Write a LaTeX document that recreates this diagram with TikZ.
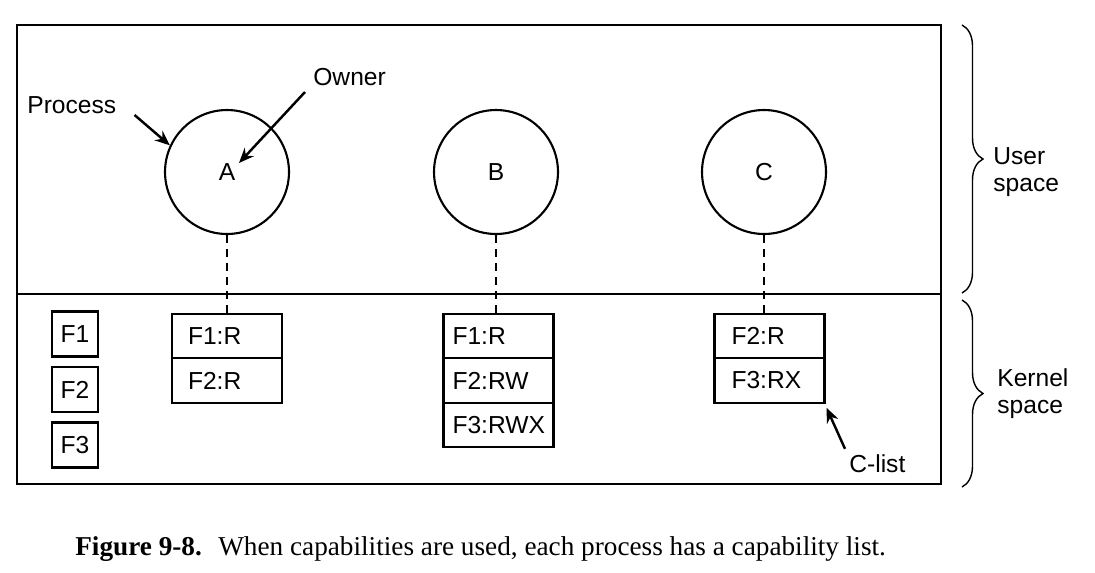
\documentclass[tikz,border=0pt]{standalone}
\usepackage{fontspec}
\setmainfont{Liberation Sans}
\newfontfamily\capfont{Liberation Serif}
\usetikzlibrary{arrows.meta,positioning,decorations.pathreplacing}

\begin{document}
\begin{tikzpicture}[
    x=0.02cm, y=-0.02cm,
    every node/.style={font=\fontsize{14}{15.5}\selectfont},
    proc/.style={circle, draw, line width=1.2pt, minimum size=2.48cm, inner sep=0pt},
    capcell/.style={rectangle, draw, line width=1.2pt, outer sep=0pt, minimum width=2.2cm, minimum height=0.89cm, inner xsep=#1, text width={2.2cm-2*#1}, align=left},
    filebox/.style={rectangle, draw, line width=1.5pt, minimum width=0.92cm, minimum height=0.9cm, inner sep=0pt},
    link/.style={line width=1pt, dash pattern=on 4.5pt off 3.5pt},
    pointer/.style={-{Stealth[length=8.5pt,width=7pt]}, line width=1.4pt},
    bracket/.style={decorate, decoration={brace, amplitude=0.42cm}, line width=0.8pt},
    tag/.style={inner sep=0pt}
]
\useasboundingbox (0,0) rectangle (1095,572);

% user / kernel frame
\draw[line width=1.1pt] (17,25) rectangle (941,484);
\draw[line width=1.1pt] (17,294) -- (941,294);

% processes
\node[proc] (procA) at (227,172) {A};
\node[proc] (procB) at (496,172) {B};
\node[proc] (procC) at (764,172) {C};

% files in the kernel
\node[filebox] (file1) at (75,334) {F1};
\node[filebox, below=0.16cm of file1] (file2) {F2};
\node[filebox, below=0.16cm of file2] (file3) {F3};

% capability lists
\node[capcell=0.32cm] (listA1) at (227,336) {F1:R};
\node[capcell=0.32cm, below=0pt of listA1] (listA2) {F2:R};

\node[capcell=0.18cm] (listB1) at (498.5,336) {F1:R};
\node[capcell=0.18cm, below=0pt of listB1] (listB2) {F2:RW};
\node[capcell=0.18cm, below=0pt of listB2] (listB3) {F3:RWX};

\node[capcell=0.34cm] (listC1) at (769.5,336) {F2:R};
\node[capcell=0.34cm, below=0pt of listC1] (listC2) {F3:RX};

\foreach \p/\l in {procA/listA1, procB/listB1, procC/listC1}
    \draw[link] (\p.south) -- (\p.south |- \l.north);

% labels and pointers
\node[tag, anchor=base west] (process) at (27,113) {Process};
\node[tag, anchor=base west] (owner) at (313,85) {Owner};
\node[tag, anchor=base west] (clist) at (849,472) {C-list};
\coordinate (ownertip) at (239,163);

\draw[pointer] ([shift={(18,2)}]process.base east) -- (procA.155);
\draw[pointer] ([shift={(-8,7)}]owner.base west) -- (ownertip);
\draw[pointer] ([shift={(-4,-5)}]clist.north west) -- ([shift={(2,5)}]listC2.south east);

% spaces
\draw[bracket] (962,25) -- (962,293);
\draw[bracket] (962,300) -- (962,487);
\node[tag, anchor=west, align=left] (user) at (993,172) {User\\space};
\node[tag, anchor=west, align=left] (kernel) at (997,394) {Kernel\\space};

\node[tag, anchor=base west, font=\capfont\fontsize{15.5}{18}\selectfont] (caption) at (75,555)
    {\textbf{Figure 9-8.}\hspace{0.6em}When capabilities are used, each process has a capability list.};

\end{tikzpicture}
\end{document}
